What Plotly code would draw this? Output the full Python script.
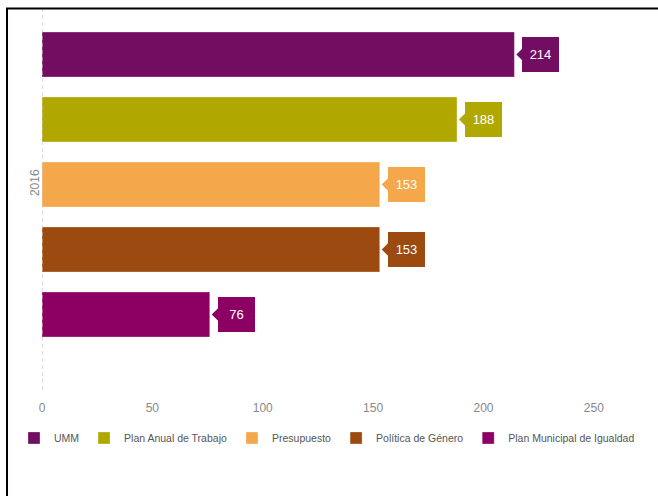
import plotly.graph_objects as go

category = ["2016"]
series_names = ["UMM", "Plan Anual de Trabajo", "Presupuesto", "Política de Género", "Plan Municipal de Igualdad"]
series_values = [214, 188, 153, 153, 76]
series_colors = ["#730D62", "#B0A800", "#F5A84B", "#9C4A10", "#8B0062"]
x_ticks = [0, 50, 100, 150, 200, 250]

BARGAP = 0.15
GROUPGAP = 0.3077
FONT = "Liberation Sans, Arial, sans-serif"

fig = go.Figure()
for name, val, col in zip(series_names, series_values, series_colors):
    fig.add_trace(go.Bar(
        y=category, x=[val], name=name, orientation="h",
        marker=dict(color=col, line=dict(color="rgba(255,255,255,0.6)", width=0.5)),
        hoverinfo="x+name",
    ))

n = len(series_names)
group_w = 1 - BARGAP
for i, (val, col) in enumerate(zip(series_values, series_colors)):
    ypos = -group_w / 2 + (i + 0.5) * group_w / n
    # pointer of the callout (arrow head only; its tail hides under the box)
    fig.add_annotation(
        x=val, y=ypos, xref="x", yref="y", text="", showarrow=True,
        ax=20, ay=0, axref="pixel", ayref="pixel",
        arrowhead=1, arrowsize=2.1, arrowwidth=1, arrowcolor=col, standoff=2,
    )
    # callout box with the value
    fig.add_annotation(
        x=val, y=ypos, xref="x", yref="y",
        text=str(val), showarrow=False,
        xanchor="left", yanchor="middle", xshift=8,
        width=25, height=23,
        bgcolor=col, borderwidth=0, borderpad=6,
        font=dict(color="white", size=13, family=FONT),
    )

# dashed category axis line at x=0
fig.add_shape(type="line", xref="x", yref="paper", x0=0, x1=0, y0=0, y1=1,
              line=dict(color="#C0C0C0", width=1, dash="4px,3px"))
# outer frame (cropped screenshot border)
fig.add_shape(type="rect", xref="paper", yref="paper",
              x0=-0.0587, x1=1.3, y0=-0.5, y1=1.0039,
              line=dict(color="black", width=2), fillcolor="rgba(0,0,0,0)")

fig.update_layout(
    width=658, height=496,
    margin=dict(l=42, r=20, t=10, b=106),
    paper_bgcolor="white", plot_bgcolor="white",
    barmode="group", bargap=BARGAP, bargroupgap=GROUPGAP,
    font=dict(family=FONT, color="#666666", size=12),
    showlegend=True,
    legend=dict(orientation="h", x=-0.047, xanchor="left", y=-0.088, yanchor="top",
                font=dict(size=10.5, color="#555555", family=FONT),
                itemwidth=30, tracegroupgap=0, itemclick=False, itemdoubleclick=False),
    xaxis=dict(range=[0, 270], tickvals=x_ticks, showgrid=False, zeroline=False,
               showline=False, ticks="", ticklabelstandoff=9,
               tickfont=dict(size=12, color="#888888"), fixedrange=True),
    yaxis=dict(type="category", range=[0.5375, -0.4564], showgrid=False, zeroline=False,
               showline=False, ticks="", tickangle=-90,
               tickfont=dict(size=12, color="#888888"), fixedrange=True),
)

fig.write_html("out.html", config={"displayModeBar": False},
               post_script="document.body.style.margin='0';")
